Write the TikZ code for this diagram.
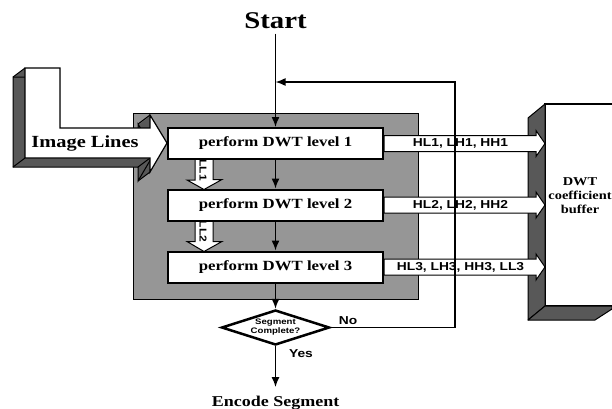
\documentclass[tikz,border=0pt]{standalone}
\usepackage{fontspec}
\setmainfont{Liberation Serif}[FakeStretch=1.2]
\newfontfamily\sansb{Liberation Sans}[FakeStretch=1.2]
\usetikzlibrary{arrows.meta,shapes.geometric,calc}
\definecolor{boxgrey}{RGB}{150,150,150}
\definecolor{sidegrey}{RGB}{88,88,88}
\begin{document}
\begin{tikzpicture}[x=1pt,y=-1pt,
  conn/.style={line width=1.5pt},
  arr/.style={conn,-{Latex[length=10pt,width=8pt]}},
  stepbox/.style={draw,line width=2pt,fill=white,minimum width=215pt,minimum height=31pt,inner sep=0pt,font=\fontsize{14}{16}\selectfont\bfseries},
  fat/.style={draw,line width=1pt,fill=white,line join=miter},
  fatlabel/.style={font=\sansb\fontsize{11.5}{13}\selectfont\bfseries,inner sep=0pt},
  side/.style={fill=sidegrey,draw,line width=1pt,line join=round},
  lpath/.style={insert path={(25,68) -- (60,68) -- (60,128) -- (150,128) -- (150,115) -- (167,143) -- (150,172) -- (150,158) -- (25,158) -- cycle}},
]
\useasboundingbox (0,0) rectangle (612,408);
\fill[white] (0,0) rectangle (612,408);

% grey frame
\node[draw,line width=1.2pt,fill=boxgrey,minimum width=285pt,minimum height=186pt,inner sep=0pt,anchor=north west] (grey) at (133,113) {};

% DWT coefficient buffer (3D box), cut off by the right edge
\coordinate (bufNW) at (545,104);
\coordinate (bufSW) at (545,306);
\coordinate (bufSE) at (612,306);
\draw[line width=1.5pt] (bufSE|-bufNW) -- (bufNW) -- (bufSW) -- (bufSE);
\draw[side] (bufNW) -- ++(-17,14) -- ++(0,202) -- (bufSW) -- cycle;
\draw[side] (bufSW) -- ++(-17,14) -- ++(67,0) -- ($(bufSE)+(0,3)$) -- (bufSE) -- cycle;
\node[font=\fontsize{12}{14}\selectfont\bfseries,align=center,inner sep=0pt] (buf) at (580,196) {DWT\\coefficient\\buffer};

% Image Lines 3D L-arrow
\foreach \d in {0,0.5,...,12} { \fill[sidegrey,shift={(-\d,0.75*\d)}] [lpath]; }
\draw[line width=1pt,shift={(-12,9)}] [lpath];
\foreach \p in {(25,68),(25,158),(150,115),(150,172),(150,158)} { \draw[line width=1pt] \p -- ++(-12,9); }
\draw[line width=1.2pt,fill=white,line join=miter] [lpath];
\node[font=\fontsize{17}{19}\selectfont\bfseries] (imgl) at (85,143) {Image Lines};

% step boxes (positions)
\path (275.5,143.5) coordinate (c1) (275.5,205) coordinate (c2) (275.5,267) coordinate (c3);

% LL fat arrows
\foreach \u/\v/\t in {c1/c2/LL1,c2/c3/LL2} {
  \draw[fat] ($(\u)+(-80.5,15.5)$) -- ++(0,21) -- ++(-8,0) -- ($(\v)+(-71.5,-15.5)$) -- ++(18,-10) -- ++(-9,0) -- ++(0,-21) -- cycle;
}
\node[stepbox] (b1) at (c1) {perform DWT level 1};
\node[stepbox] (b2) at (c2) {perform DWT level 2};
\node[stepbox] (b3) at (c3) {perform DWT level 3};
\node[font=\sansb\fontsize{10}{11}\selectfont\bfseries,rotate=-90,inner sep=0pt] (LL1) at ($(b1.south west)+(36,10)$) {LL1};
\node[font=\sansb\fontsize{10}{11}\selectfont\bfseries,rotate=-90,inner sep=0pt] (LL2) at ($(b2.south west)+(36,10)$) {LL2};

% output fat arrows
\foreach \u/\t in {b1/{HL1, LH1, HH1},b2/{HL2, LH2, HH2},b3/{HL3, LH3, HH3, LL3}} {
  \draw[fat] ($(\u.east)+(0,-8)$) -- ($(bufNW|-\u.east)+(-9,-8)$) -- ++(0,-5) -- (bufNW|-\u.east) -- ($(bufNW|-\u.east)+(-9,13)$) -- ++(0,-5) -- ($(\u.east)+(0,8)$) -- cycle;
  \node[fatlabel] (o\u) at ($(\u.east)!0.5!(bufNW|-\u.east)+(-4,0)$) {\t};
}

% start, decision, end
\node[font=\fontsize{24}{26}\selectfont\bfseries,anchor=base,outer sep=2pt] (start) at (275.5,28) {Start};
\node[diamond,draw,line width=2.5pt,fill=white,shape aspect=3,minimum width=108pt,minimum height=35pt,inner sep=0pt,align=center,font=\sansb\fontsize{8}{9}\selectfont\bfseries] (dec) at (275.5,327.5) {Segment\\Complete?};
\node[font=\fontsize{15}{17}\selectfont\bfseries,anchor=base] (enc) at (275.5,406) {Encode Segment};
\node[font=\sansb\fontsize{11.5}{12}\selectfont\bfseries] (no) at (348,321) {No};
\node[font=\sansb\fontsize{11.5}{12}\selectfont\bfseries] (yes) at (301,354) {Yes};

\coordinate (fbTop) at (455,82);
\coordinate (fbJoin) at (275.5,82);

% connectors
\draw[arr] (start.south) -- (b1.north);
\draw[arr] (b1.south) -- (b2.north);
\draw[arr] (b2.south) -- (b3.north);
\draw[arr] (b3.south) -- (dec.north);
\draw[arr] (dec.south) -- ([yshift=5pt]enc.north);
\draw[arr] (dec.east) -| (fbTop) -- (fbJoin);
\end{tikzpicture}
\end{document}
